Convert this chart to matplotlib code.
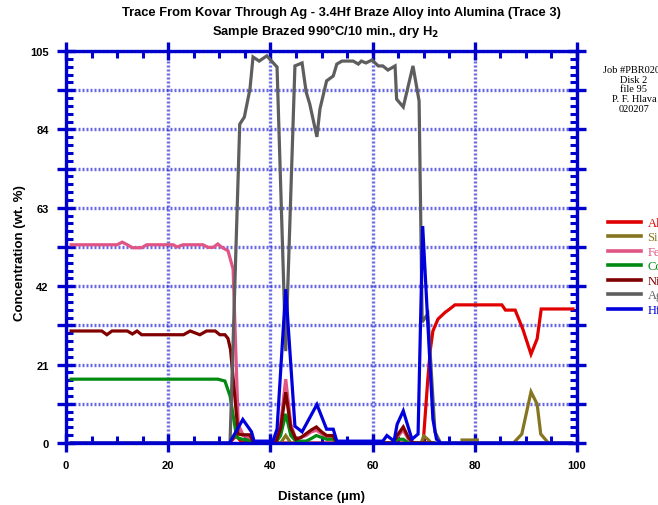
import numpy as np
import matplotlib
matplotlib.use('Agg')
import matplotlib.pyplot as plt
from matplotlib.ticker import FixedLocator, MultipleLocator

nan = np.nan

# ---- data (digitised vertices) ----
al_x = [32, 33.3, 34.3, 35, 69.9, 70.8, 71.3, 71.8, 72.8, 74.2, 75.1, 76.1, 85.3, 86, 87.9, 89.4, 91, 92.2, 93, 99.2]
al_y = [0, 2, 0.3, 0, 0, 17, 25, 30, 33.2, 35, 35.9, 37, 37, 35.6, 35.6, 30.5, 23.8, 27.9, 35.9, 35.9]

si_x = [42, 43, 44, nan, 69.5, 70, 70.8, 71.5, nan, 77.5, 80.5, nan, 87.9, 89.2, 91, 92.2, 92.9, 94.1]
si_y = [0, 2, 0, nan, 0, 1.9, 1, 0, nan, 0.8, 0.8, nan, 0.5, 2.4, 13.7, 10.4, 2.4, 0.5]

fe_x = [1, 10, 11, 12, 13, 14.8, 15.8, 21, 21.7, 22.9, 26.8, 27.8, 28.8, 29.7, 30.5, 31.7, 32.7, 33.7,
        34.7, 35.7, 36.5, 41, 42, 43, 44, 45, 46, 47, 48, 49, 50, 51, 52.3, 53, 64, 64.8, 66, 67, 68, 72]
fe_y = [53.1, 53.1, 53.8, 53.1, 52.3, 52.3, 53.1, 53.1, 52.5, 53.1, 53.1, 52.4, 52.4, 53.3, 52.4, 51.5, 46.6, 5,
        2, 1.5, 0, 0, 5, 17.1, 5, 1, 1.5, 2, 3, 3.4, 2.5, 1.5, 1.5, 0, 0, 1.5, 3.5, 1, 0, 0]

co_x = [1, 29.7, 31.1, 32.1, 33.4, 34.5, 35.5, 36.5, 41, 42, 43, 44, 45, 47, 48, 49, 50, 51, 52.3, 53, 64, 64.8, 66, 67, 72]
co_y = [17.1, 17.1, 16.6, 12.6, 1.5, 1, 0.8, 0, 0, 2, 7.8, 2, 0.5, 0.5, 1.2, 2, 1.5, 1, 1, 0, 0, 1, 1, 0, 0]

ni_x = [1, 7, 8, 9, 12, 13, 13.9, 14.8, 23, 24.3, 26.2, 27.5, 29.2, 30.1, 31.1, 31.7, 32.2, 33.7, 34.5, 36, 36.7,
        41, 42, 43, 44, 45, 46, 47, 48, 49, 50, 51, 52.3, 53, 64, 64.8, 66, 67, 68, 72]
ni_y = [30, 30, 29, 30, 30, 29.2, 30, 29, 29, 30, 29, 30, 30, 29, 29, 28, 25, 2.4, 2.2, 2.2, 0,
        0, 4, 13.6, 4, 1, 1.5, 2.5, 3.5, 4.3, 3, 2, 2, 0, 0, 2, 4.3, 1.5, 0, 0]

ag_x = [1, 32.1, 34, 34.9, 36, 36.6, 37.8, 39.3, 41.3, 43, 44.8, 46.2, 47, 47.7, 49.1, 49.7, 51, 52.3, 53, 54,
        56.2, 57.2, 57.8, 58.7, 59.9, 61.1, 62, 63, 64.4, 64.7, 66, 67.9, 69.1, 69.7, 70.8, 72.2, 73.3, 99]
ag_y = [0, 0, 85.4, 87.3, 94.8, 103.4, 102.3, 103.7, 100.7, 24.6, 101, 101.8, 94, 90.8, 82, 89.5, 97, 98.3, 101.5, 102.3,
        102.3, 101.5, 102.3, 101.8, 102.6, 101, 101, 99.9, 101, 92.1, 90, 101, 91.6, 32.4, 34.6, 3, 0, 0]

hf_x = [1, 32, 34.6, 36.3, 36.8, 40.5, 41.3, 43, 44.8, 46.2, 49.1, 51, 52.3, 53, 62, 62.8, 64.2, 64.8, 66, 67.7,
        68.9, 69.8, 71.8, 72.5, 73.3, 99]
hf_y = [0, 0, 6.3, 3, 0.5, 0.5, 3.7, 41.2, 4.5, 3, 10.3, 3.7, 3.7, 0.5, 0.5, 2, 0.5, 5, 8.6, 1,
        2.4, 58.1, 6.4, 1, 0, 0]

element_names = ["Al", "Si", "Fe", "Co", "Ni", "Ag", "Hf"]
element_colors = ["#e00000", "#857520", "#e05585", "#008a10", "#800000", "#5e5e5e", "#0000dd"]

y_ticks = [0, 10.5, 21, 31.5, 42, 52.5, 63, 73.5, 84, 94.5, 105]
y_tick_labels = ["0", "", "21", "", "42", "", "63", "", "84", "", "105"]
x_ticks = [0, 20, 40, 60, 80, 100]
x_tick_labels = ["0", "20", "40", "60", "80", "100"]

note_lines = ["Job #PBR0201", "Disk 2", "file 95", "P. F. Hlava", "020207"]

# ---- figure ----
plt.rcParams['font.family'] = ['Liberation Sans', 'DejaVu Sans']
fig = plt.figure(figsize=(6.58, 5.06), dpi=100)
ax = fig.add_axes([66/658, 1-444/506, (577-66)/658, (444-52)/506])

series = [(al_x, al_y), (si_x, si_y), (fe_x, fe_y), (co_x, co_y), (ni_x, ni_y), (ag_x, ag_y), (hf_x, hf_y)]
for (xs, ys), name, col in zip(series, element_names, element_colors):
    ax.plot(xs, ys, color=col, lw=2.3, label=name, zorder=3, solid_joinstyle='miter')

ax.set_xlim(0, 100)
ax.set_ylim(0, 105)

blue = "#0000cc"
for s in ax.spines.values():
    s.set_color(blue)
    s.set_linewidth(2.4)
    s.set_zorder(5)

ax.xaxis.set_major_locator(FixedLocator(x_ticks))
ax.set_xticklabels(x_tick_labels)
ax.xaxis.set_minor_locator(MultipleLocator(5))
ax.yaxis.set_major_locator(FixedLocator(y_ticks))
ax.set_yticklabels(y_tick_labels)
ax.yaxis.set_minor_locator(MultipleLocator(2.1))

ax.tick_params(which='major', direction='inout', length=13, width=2.4, color=blue,
               top=True, right=True, labelsize=8, pad=6)
ax.tick_params(which='minor', direction='in', length=5, width=2.2, color=blue,
               top=True, right=True)
for lab in ax.get_xticklabels() + ax.get_yticklabels():
    lab.set_fontweight('bold')

ax.grid(True, which='major', color='#2a2ad8', linestyle=(0, (0.6, 0.6)), linewidth=2.4, alpha=0.7, zorder=1)
ax.set_axisbelow(True)

ax.set_xlabel("Distance (µm)", fontsize=9.5, fontweight='bold', labelpad=14)
ax.set_ylabel("Concentration (wt. %)", fontsize=9.5, fontweight='bold', labelpad=8)
ax.yaxis.set_label_coords(26/658, 0.5, transform=fig.transFigure)

fig.text(341/658, 1-13/506, "Trace From Kovar Through Ag - 3.4Hf Braze Alloy into Alumina (Trace 3)",
         ha='center', va='center', fontsize=9.3, fontweight='bold')
fig.text(326/658, 1-31/506, "Sample Brazed 990°C/10 min., dry H$_\\mathbf{2}$",
         ha='center', va='center', fontsize=9.3, fontweight='bold')

fig.text(634/658, 1-66/506, "\n".join(note_lines), ha='center', va='top', fontsize=7.5,
         family=['Liberation Serif', 'DejaVu Serif'], linespacing=1.1)

leg = ax.legend(loc='upper left', bbox_to_anchor=(608/658, 1-218/506), bbox_transform=fig.transFigure,
                frameon=False, handlelength=2.6, handletextpad=0.55, labelspacing=0.2,
                borderpad=0, borderaxespad=0, prop={'family': ['Liberation Serif', 'DejaVu Serif'], 'size': 9})
for txt, col in zip(leg.get_texts(), element_colors):
    txt.set_color(col)
for h in leg.get_lines():
    h.set_linewidth(2.6)

fig.savefig("out.png", dpi=100)
